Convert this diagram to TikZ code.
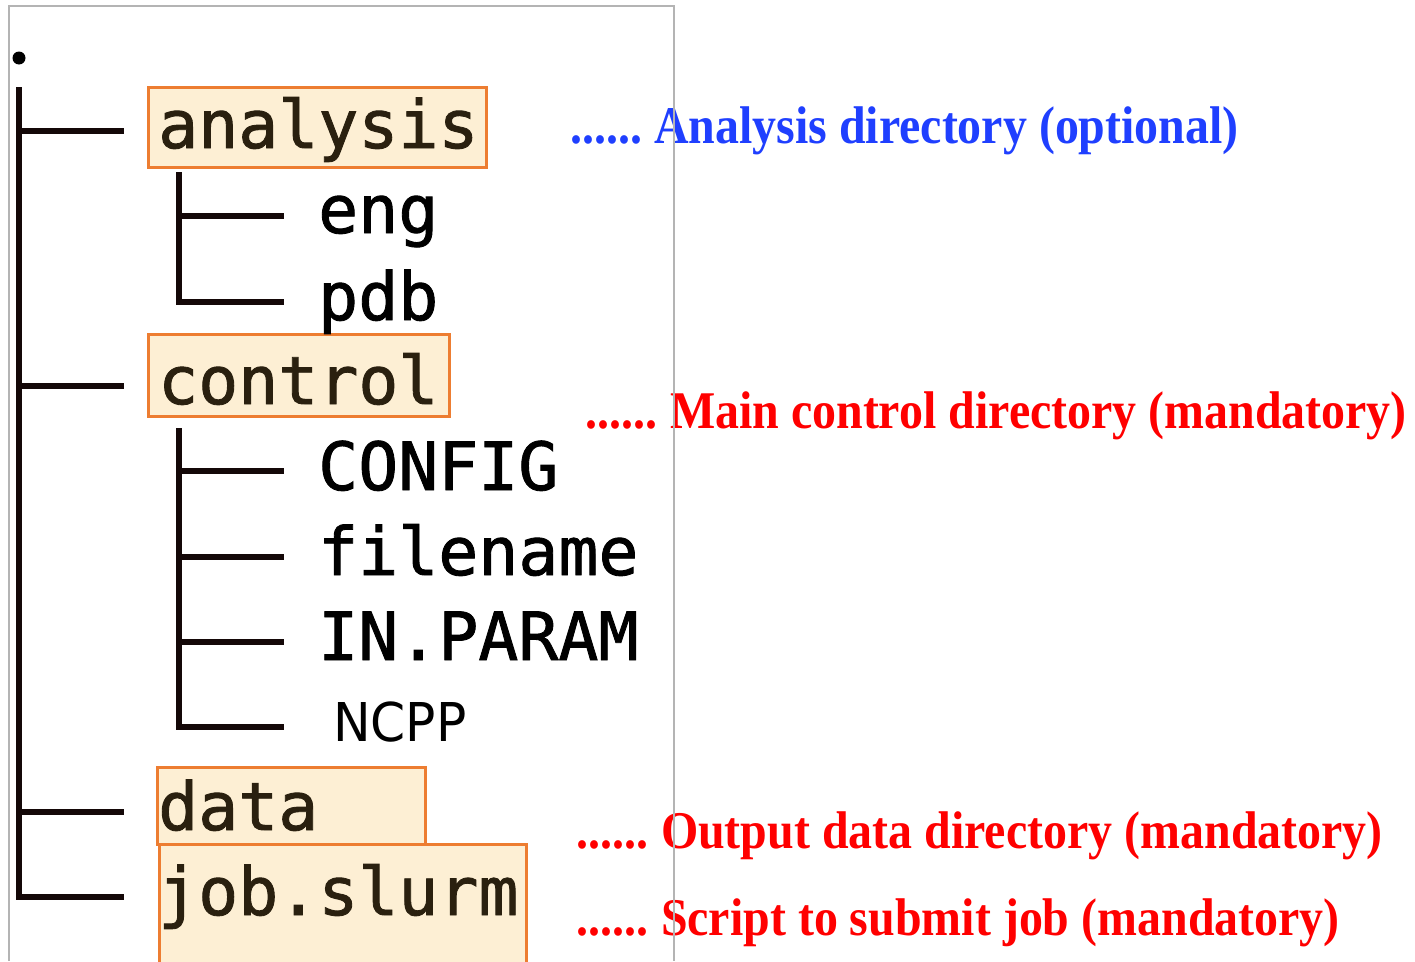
\documentclass[tikz,border=0pt]{standalone}
\usepackage{fontspec}
\setmainfont{Liberation Serif}
\newfontfamily\lblfont[FakeStretch=0.904]{Liberation Serif}
\newfontfamily\dirmono[FakeBold=1.3]{DejaVu Sans Mono}
\newfontfamily\ncppfont[FakeStretch=0.94]{DejaVu Sans}
\definecolor{treeblack}{HTML}{140808}
\definecolor{boxorange}{HTML}{ED7D31}
\definecolor{boxfill}{HTML}{FDEFD4}
\definecolor{boxtext}{HTML}{2A200F}
\definecolor{noteblue}{HTML}{1F3FFF}
\definecolor{notered}{HTML}{FF0000}
\definecolor{framegray}{HTML}{B4B4B4}
\begin{document}
\begin{tikzpicture}[x=1pt,y=-1pt,
  treeline/.style={line width=5.2pt, draw=treeblack},
  dirbox/.style={draw=boxorange, fill=boxfill, line width=2.5pt, inner sep=0pt, anchor=north west},
  mono/.style={inner sep=0pt, anchor=base west, font=\fontsize{66.5}{66.5}\selectfont\dirmono, text=black},
  boxtext/.style={mono, text=boxtext},
  ncpp/.style={inner sep=0pt, anchor=base west, font=\fontsize{53.5}{53.5}\selectfont\ncppfont, text=black},
  note/.style={inner sep=0pt, anchor=base west, font=\fontsize{53}{53}\selectfont\lblfont\bfseries},
  framebox/.style={draw=framegray, line width=1.5pt}
]
\useasboundingbox (0,0) rectangle (1415,961);

% boxes
\node[dirbox, minimum width=338pt, minimum height=80pt] (analysisbox) at (147,86) {};
\node[dirbox, minimum width=301pt, minimum height=82pt] (controlbox) at (147,333) {};
\node[dirbox, minimum width=268pt, minimum height=77pt] (databox) at (156,766) {};
\node[dirbox, minimum width=367pt, minimum height=140pt] (jobbox) at (158,843) {};

% root dot
\node[circle, fill=black, inner sep=0pt, minimum size=13pt] (rootdot) at (19,58) {};

% directory names
\node[boxtext] (analysis) at (158,148) {analysis};
\node[mono] (eng) at (318,233) {eng};
\node[mono] (pdb) at (318,320) {pdb};
\node[boxtext] (control) at (158,404) {control};
\node[mono] (config) at (318,490) {CONFIG};
\node[mono] (filename) at (318,575) {filename};
\node[mono] (inparam) at (318,660) {IN.PARAM};
\node[ncpp] (ncpp) at (333,741) {NCPP};
\node[boxtext] (data) at (158,830) {data};
\node[boxtext] (job) at (158,915) {job.slurm};

% tree coordinates
\coordinate (roottop) at (19,87);
\coordinate (b1) at (124,131);
\coordinate (b2) at (124,386);
\coordinate (b3) at (124,812);
\coordinate (b4) at (124,897);
\coordinate (atop) at (179,172);
\coordinate (a1) at (284,216);
\coordinate (a2) at (284,302);
\coordinate (ctop) at (179,428);
\coordinate (c1) at (284,471);
\coordinate (c2) at (284,557);
\coordinate (c3) at (284,642);
\coordinate (c4) at (284,727);

\draw[treeline] (roottop) -- (roottop |- b4) -- (b4);
\draw[treeline] (roottop |- b1) -- (b1);
\draw[treeline] (roottop |- b2) -- (b2);
\draw[treeline] (roottop |- b3) -- (b3);
\draw[treeline] (atop) -- (atop |- a2) -- (a2);
\draw[treeline] (atop |- a1) -- (a1);
\draw[treeline] (ctop) -- (ctop |- c4) -- (c4);
\draw[treeline] (ctop |- c1) -- (c1);
\draw[treeline] (ctop |- c2) -- (c2);
\draw[treeline] (ctop |- c3) -- (c3);

% notes
\node[note, text=noteblue] (n1) at (570,143) {......\hspace{-4pt} Analysis directory (optional)};
\node[note, text=notered] (n2) at (585,428) {......\hspace{-3pt} Main control directory (mandatory)};
\node[note, text=notered] (n3) at (576,848) {......\hspace{-3pt} Output data directory (mandatory)};
\node[note, text=notered] (n4) at (576,935) {......\hspace{-3pt} Script to submit job (mandatory)};

% frame
\coordinate (fl) at (9,6);
\coordinate (fr) at (674,6);
\draw[framebox] (9,961) -- (fl) -- (fr) -- (674,961);
\end{tikzpicture}
\end{document}
